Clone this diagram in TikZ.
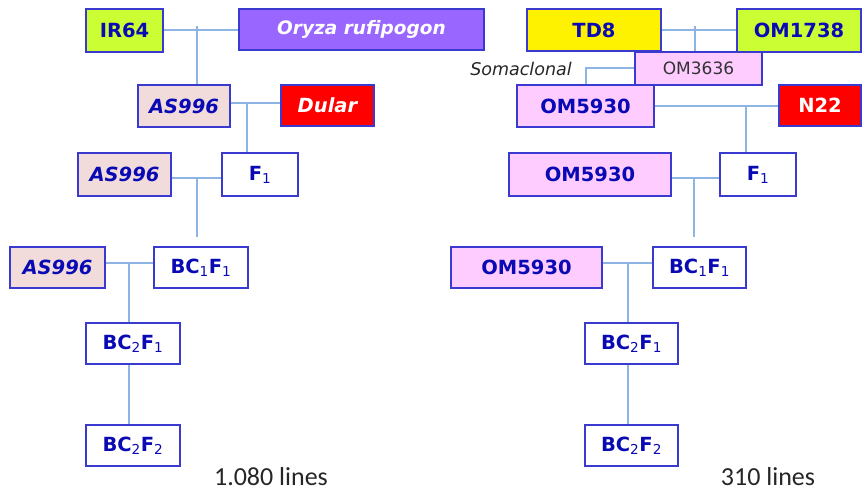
\documentclass[tikz,border=0pt]{standalone}
\usepackage{fontspec}
\setmainfont{DejaVu Sans}
\newfontfamily\linesfont{Carlito}
\definecolor{lime}{HTML}{CCFF33}
\definecolor{purp}{HTML}{9966FF}
\definecolor{aspink}{HTML}{F2DCDB}
\definecolor{ompink}{HTML}{FFCCFF}
\definecolor{bord}{HTML}{3A3AD0}
\definecolor{txtblue}{HTML}{0A0AB4}
\definecolor{conn}{HTML}{8EB4E3}
\newcommand{\sbs}[1]{\textsubscript{\mdseries #1}}
\begin{document}
\begin{tikzpicture}[x=1pt,y=-1pt,
  box/.style={draw=bord,line width=1.3pt,inner sep=0pt,anchor=center,
    font=\fontsize{19.5}{22}\selectfont\bfseries,text=txtblue},
  wtxt/.style={text=white},
  itx/.style={font=\fontsize{19.5}{22}\selectfont\bfseries\itshape},
  conline/.style={draw=conn,line width=1.4pt},
  lbl/.style={font=\linesfont\fontsize{26}{30}\selectfont,text=black!85,inner sep=0pt,anchor=base}]
\useasboundingbox (0,0) rectangle (862,491);
% ---------- left tree ----------
\node[box,fill=lime,minimum width=77pt,minimum height=43pt] (IR) at (124.5,30.5) {IR64};
\node[box,fill=purp,wtxt,itx,font=\fontsize{18.5}{22}\selectfont\bfseries\itshape,minimum width=245pt,minimum height=41pt] (ORY) at (361.5,29.5) {Oryza rufipogon};
\node[box,fill=aspink,itx,minimum width=92pt,minimum height=42pt] (ASa) at (184,106) {AS996};
\node[box,fill=red,wtxt,itx,minimum width=93pt,minimum height=41pt] (DUL) at (327.5,105.5) {Dular};
\node[box,fill=aspink,itx,minimum width=93pt,minimum height=43pt] (ASb) at (124.5,174.5) {AS996};
\node[box,fill=white,minimum width=76pt,minimum height=43pt] (FL) at (260,174.5) {F\sbs{1}};
\node[box,fill=aspink,itx,minimum width=95pt,minimum height=41pt] (ASc) at (57.5,267.5) {AS996};
\node[box,fill=white,minimum width=94pt,minimum height=41pt] (BCL) at (201,267.5) {BC\sbs{1}F\sbs{1}};
\node[box,fill=white,minimum width=94pt,minimum height=41pt] (BBL) at (133,343.5) {BC\sbs{2}F\sbs{1}};
\node[box,fill=white,minimum width=94pt,minimum height=41pt] (BDL) at (133,445.5) {BC\sbs{2}F\sbs{2}};
\coordinate (jA) at (197,30);
\coordinate (jB) at (247,103);
\coordinate (jC) at (197,178);
\coordinate (jCe) at (197,237);
\coordinate (jD) at (129,263);
\path[conline] (IR.east |- jA) -- (ORY.west |- jA);
\path[conline] ([yshift=4pt]jA) -- (jA |- ASa.north);
\path[conline] (ASa.east |- jB) -- (DUL.west |- jB);
\path[conline] (jB) -- (jB |- FL.north);
\path[conline] (ASb.east |- jC) -- (FL.west |- jC);
\path[conline] (jC) -- (jCe);
\path[conline] (ASc.east |- jD) -- (BCL.west |- jD);
\path[conline] (jD) -- (jD |- BBL.north);
\path[conline] (jD |- BBL.south) -- (jD |- BDL.north);
\node[lbl] (LL) at (271,485) {1.080 lines};
% ---------- right tree ----------
\node[box,fill=yellow,minimum width=134pt,minimum height=42pt] (TD) at (594,30) {TD8};
\node[box,fill=lime,minimum width=124pt,minimum height=43pt] (OMa) at (799,30.5) {OM1738};
\node[box,fill=ompink,minimum width=127pt,minimum height=33pt,font=\fontsize{17}{20}\selectfont,text=black!80] (OMc) at (698.5,68.5) {OM3636};
\node[font=\fontsize{17.5}{20}\selectfont\itshape,text=black!85] (SOM) at (521,69) {Somaclonal};
\node[box,fill=ompink,minimum width=137pt,minimum height=42pt] (OMd) at (585.5,106) {OM5930};
\node[box,fill=red,wtxt,minimum width=82pt,minimum height=41pt] (N22) at (820,105.5) {N22};
\node[box,fill=ompink,minimum width=162pt,minimum height=43pt] (OMe) at (590,174.5) {OM5930};
\node[box,fill=white,minimum width=76pt,minimum height=43pt] (FR) at (758,174.5) {F\sbs{1}};
\node[box,fill=ompink,minimum width=151pt,minimum height=41pt] (OMf) at (526.5,267.5) {OM5930};
\node[box,fill=white,minimum width=93pt,minimum height=41pt] (BCR) at (699.5,267.5) {BC\sbs{1}F\sbs{1}};
\node[box,fill=white,minimum width=93pt,minimum height=41pt] (BBR) at (631.5,343.5) {BC\sbs{2}F\sbs{1}};
\node[box,fill=white,minimum width=93pt,minimum height=41pt] (BDR) at (631.5,445.5) {BC\sbs{2}F\sbs{2}};
\coordinate (jE) at (695,30);
\coordinate (jS) at (586,68);
\coordinate (jF) at (746,106);
\coordinate (jG) at (694,178);
\coordinate (jGe) at (694,237);
\coordinate (jH) at (628,263);
\path[conline] (TD.east |- jE) -- (OMa.west |- jE);
\path[conline] ([yshift=4pt]jE) -- (jE |- OMc.north);
\path[conline] (OMc.west |- jS) -- (jS) -- (jS |- OMd.north);
\path[conline] (OMd.east |- jF) -- (N22.west |- jF);
\path[conline] (jF) -- (jF |- FR.north);
\path[conline] (OMe.east |- jG) -- (FR.west |- jG);
\path[conline] (jG) -- (jGe);
\path[conline] (OMf.east |- jH) -- (BCR.west |- jH);
\path[conline] (jH) -- (jH |- BBR.north);
\path[conline] (jH |- BBR.south) -- (jH |- BDR.north);
\node[lbl] (RL) at (768,485) {310 lines};
\end{tikzpicture}
\end{document}
